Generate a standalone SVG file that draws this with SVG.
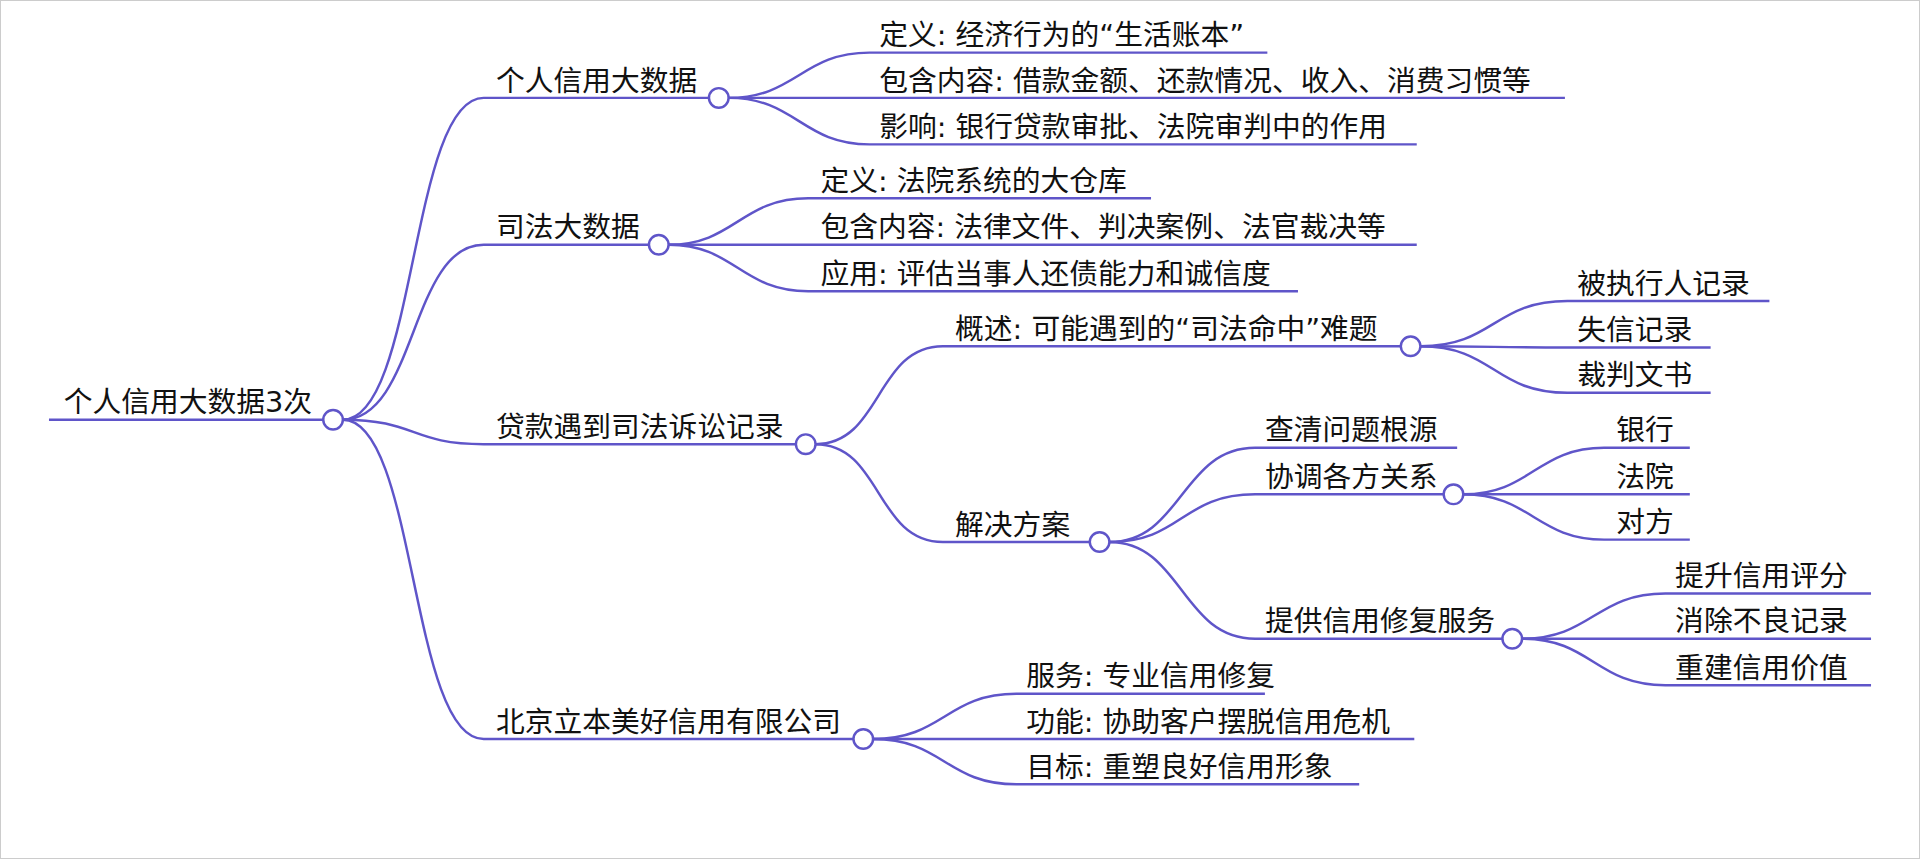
<svg xmlns="http://www.w3.org/2000/svg" width="1920" height="859" viewBox="0 0 1920 859">
<style>
.l{fill:none;stroke:#5f55c9;stroke-width:2}
.c{fill:#fff;stroke:#5f55c9;stroke-width:2}
text{font-family:"DejaVu Sans","Noto Sans CJK SC",sans-serif;font-size:23.5px;fill:#111}
</style>
<rect x="0.5" y="0.5" width="1919" height="858" fill="#fff" stroke="#ccc"/>
<g transform="scale(1.2245,1.2236)">
<g id="connectors">
<path class="l" d="M40 343H272"/>
<path class="l" d="M280 343C340 343 335 80 395 80H587"/>
<path class="l" d="M280 343C340 343 335 200 395 200H538"/>
<path class="l" d="M280 343C340 343 335 363 395 363H658"/>
<path class="l" d="M280 343C340 343 335 604 395 604H705"/>
<path class="l" d="M595 80C650 80 655 43 710 43H1035"/>
<path class="l" d="M595 80H1278"/>
<path class="l" d="M595 80C650 80 655 118 710 118H1157"/>
<path class="l" d="M546 200C600 200 605 162 660 162H940"/>
<path class="l" d="M546 200H1157"/>
<path class="l" d="M546 200C600 200 605 238 660 238H1060"/>
<path class="l" d="M666 363C720 363 715 283 770 283H1152"/>
<path class="l" d="M666 363C720 363 715 443 770 443H898"/>
<path class="l" d="M1160 283C1220 283 1220 246 1280 246H1445"/>
<path class="l" d="M1160 283C1220 283 1220 284 1280 284H1397"/>
<path class="l" d="M1160 283C1220 283 1220 321 1280 321H1397"/>
<path class="l" d="M906 443C965 443 965 366 1025 366H1190"/>
<path class="l" d="M906 443C965 443 965 404 1025 404H1187"/>
<path class="l" d="M906 443C965 443 965 522 1025 522H1235"/>
<path class="l" d="M1195 404C1250 404 1255 366 1310 366H1380"/>
<path class="l" d="M1195 404H1380"/>
<path class="l" d="M1195 404C1250 404 1255 441 1310 441H1380"/>
<path class="l" d="M1243 522C1300 522 1303 485 1360 485H1528"/>
<path class="l" d="M1243 522H1528"/>
<path class="l" d="M1243 522C1300 522 1303 560 1360 560H1528"/>
<path class="l" d="M713 604C770 604 773 567 830 567H1033"/>
<path class="l" d="M713 604H1155"/>
<path class="l" d="M713 604C770 604 773 641 830 641H1110"/>
</g>
<g id="root"><text x="52" y="337">个人信用大数据3次</text><circle class="c" cx="272" cy="343" r="8"/></g>
<g id="n1"><text x="405" y="74">个人信用大数据</text><circle class="c" cx="587" cy="80" r="8"/></g>
<g id="n1a"><text x="718" y="37">定义: 经济行为的“生活账本”</text></g>
<g id="n1b"><text x="718" y="74">包含内容: 借款金额、还款情况、收入、消费习惯等</text></g>
<g id="n1c"><text x="718" y="112">影响: 银行贷款审批、法院审判中的作用</text></g>
<g id="n2"><text x="405" y="194">司法大数据</text><circle class="c" cx="538" cy="200" r="8"/></g>
<g id="n2a"><text x="670" y="156">定义: 法院系统的大仓库</text></g>
<g id="n2b"><text x="670" y="194">包含内容: 法律文件、判决案例、法官裁决等</text></g>
<g id="n2c"><text x="670" y="232">应用: 评估当事人还债能力和诚信度</text></g>
<g id="n3"><text x="405" y="357">贷款遇到司法诉讼记录</text><circle class="c" cx="658" cy="363" r="8"/></g>
<g id="n3a"><text x="780" y="277">概述: 可能遇到的“司法命中”难题</text><circle class="c" cx="1152" cy="283" r="8"/></g>
<g id="n3a1"><text x="1288" y="240">被执行人记录</text></g>
<g id="n3a2"><text x="1288" y="278">失信记录</text></g>
<g id="n3a3"><text x="1288" y="315">裁判文书</text></g>
<g id="n3b"><text x="780" y="437">解决方案</text><circle class="c" cx="898" cy="443" r="8"/></g>
<g id="n3b1"><text x="1033" y="360">查清问题根源</text></g>
<g id="n3b2"><text x="1033" y="398">协调各方关系</text><circle class="c" cx="1187" cy="404" r="8"/></g>
<g id="n3b2a"><text x="1320" y="360">银行</text></g>
<g id="n3b2b"><text x="1320" y="398">法院</text></g>
<g id="n3b2c"><text x="1320" y="435">对方</text></g>
<g id="n3b3"><text x="1033" y="516">提供信用修复服务</text><circle class="c" cx="1235" cy="522" r="8"/></g>
<g id="n3b3a"><text x="1368" y="479">提升信用评分</text></g>
<g id="n3b3b"><text x="1368" y="516">消除不良记录</text></g>
<g id="n3b3c"><text x="1368" y="554">重建信用价值</text></g>
<g id="n4"><text x="405" y="598">北京立本美好信用有限公司</text><circle class="c" cx="705" cy="604" r="8"/></g>
<g id="n4a"><text x="838" y="561">服务: 专业信用修复</text></g>
<g id="n4b"><text x="838" y="598">功能: 协助客户摆脱信用危机</text></g>
<g id="n4c"><text x="838" y="635">目标: 重塑良好信用形象</text></g>
</g>
</svg>
